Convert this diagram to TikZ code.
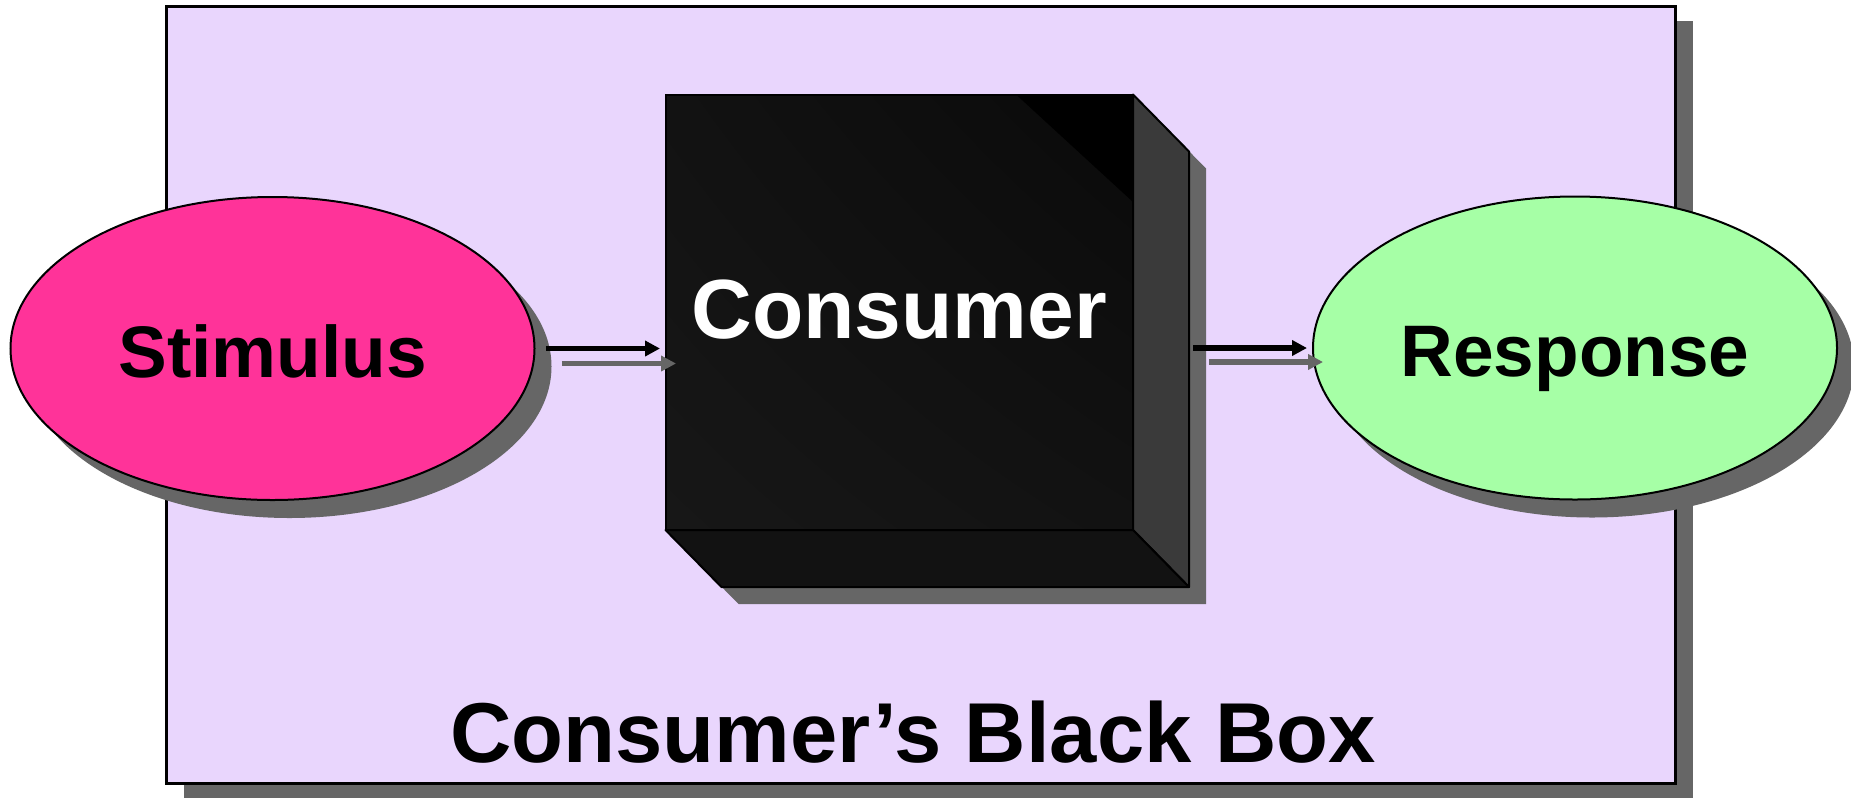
\documentclass[tikz,border=0pt]{standalone}
\usepackage{fontspec}
\setmainfont{Liberation Sans}
\usetikzlibrary{arrows.meta,shapes.geometric,shadows,shadings}
\definecolor{lav}{HTML}{E9D6FD}
\definecolor{pinkfill}{HTML}{FF3399}
\definecolor{greenfill}{HTML}{A6FFA6}
\definecolor{shadowc}{HTML}{666666}
\definecolor{facec}{HTML}{151515}
\definecolor{faceul}{HTML}{121212}
\definecolor{faceur}{HTML}{0A0A0A}
\definecolor{facell}{HTML}{171717}
\definecolor{sidec}{HTML}{3A3A3A}
\definecolor{bottomc}{HTML}{121212}
\pgfdeclarelayer{back}
\pgfdeclarelayer{mid}
\pgfsetlayers{back,mid,main}
\begin{document}
\begin{tikzpicture}[x=0.5pt,y=-0.5pt,
  framebox/.style={draw=black, line width=1.5pt, fill=lav, rectangle, inner sep=0pt, outer sep=0pt,
    minimum width=754.5pt, minimum height=388.5pt,
    general shadow={fill=shadowc, shadow xshift=9pt, shadow yshift=-7.5pt}},
  oval/.style={draw=black, line width=1pt, ellipse, inner sep=0pt, outer sep=0pt,
    minimum width=262pt, minimum height=151.5pt, text height=28.5pt, text depth=0pt,
    font=\bfseries\fontsize{36.5pt}{44pt}\selectfont,
    general shadow={fill=shadowc, shadow xshift=8.5pt, shadow yshift=-9pt}},
  cubeface/.style={draw=black, line width=1pt, fill=facec, rectangle, inner sep=0pt, outer sep=0pt,
    minimum width=233.75pt, minimum height=217.75pt, text=white, text height=26pt, text depth=0pt,
    font=\bfseries\fontsize{42pt}{50pt}\selectfont},
  facepart/.style={draw=black, line width=1pt, line join=round},
  arr/.style={line width=2.6pt, -{Triangle[length=7.5pt,width=7.5pt]}},
  shadowarr/.style={arr, draw=shadowc}
]
\useasboundingbox (0,0) rectangle (1851,798);

% frame
\begin{pgfonlayer}{back}
\node[framebox] (frame) at (920.5,394.5) {};
\end{pgfonlayer}

% ellipses
\node[oval, fill=pinkfill] (stimulus) at (272.5,348.5) {Stimulus};
\node[oval, fill=greenfill] (response) at (1575,348) {Response};

% cube front face
\node[cubeface, path picture={
  \shade[upper left=faceul, upper right=faceur, lower left=facell, lower right=faceul]
    (path picture bounding box.south west) rectangle (path picture bounding box.north east);
  \fill[black] (path picture bounding box.north east) -- ++(-117,0) -- ++(117,107.5) -- cycle;}]
  (consumer) at (899.25,312.25) {Consumer};

% cube shadow
\begin{pgfonlayer}{mid}
\fill[shadowc] ([shift={(17,17)}]consumer.north east) -- ([shift={(73,74)}]consumer.north east)
  -- ([shift={(73,74)}]consumer.south east) -- ([shift={(73,74)}]consumer.south west)
  -- ([shift={(17,17)}]consumer.south west) -- cycle;
\end{pgfonlayer}

% side and bottom faces
\draw[facepart, fill=sidec] (consumer.north east) -- ++(56,57) -- ([shift={(56,57)}]consumer.south east) -- (consumer.south east) -- cycle;
\draw[facepart, fill=bottomc] (consumer.south west) -- (consumer.south east) -- ++(56,57) -- ([shift={(56,57)}]consumer.south west) -- cycle;

\coordinate (cubeR) at ([xshift=28pt]consumer.east);

% title
\node[anchor=base, font=\bfseries\fontsize{42.5pt}{50pt}\selectfont] (title) at (913,762) {Consumer’s Black Box};

% arrows
\draw[shadowarr, transform canvas={xshift=8pt,yshift=-7.5pt}, shorten <=5.7pt, shorten >=2.75pt]
  (stimulus.east) -- (stimulus.east -| consumer.west);
\draw[arr, shorten <=5.7pt, shorten >=2.75pt] (stimulus.east) -- (stimulus.east -| consumer.west);
\draw[shadowarr, transform canvas={xshift=8pt,yshift=-7pt}, shorten <=2pt, shorten >=3pt]
  (cubeR |- response.west) -- (response.west);
\draw[arr, shorten <=2pt, shorten >=3pt] (cubeR |- response.west) -- (response.west);
\end{tikzpicture}
\end{document}
